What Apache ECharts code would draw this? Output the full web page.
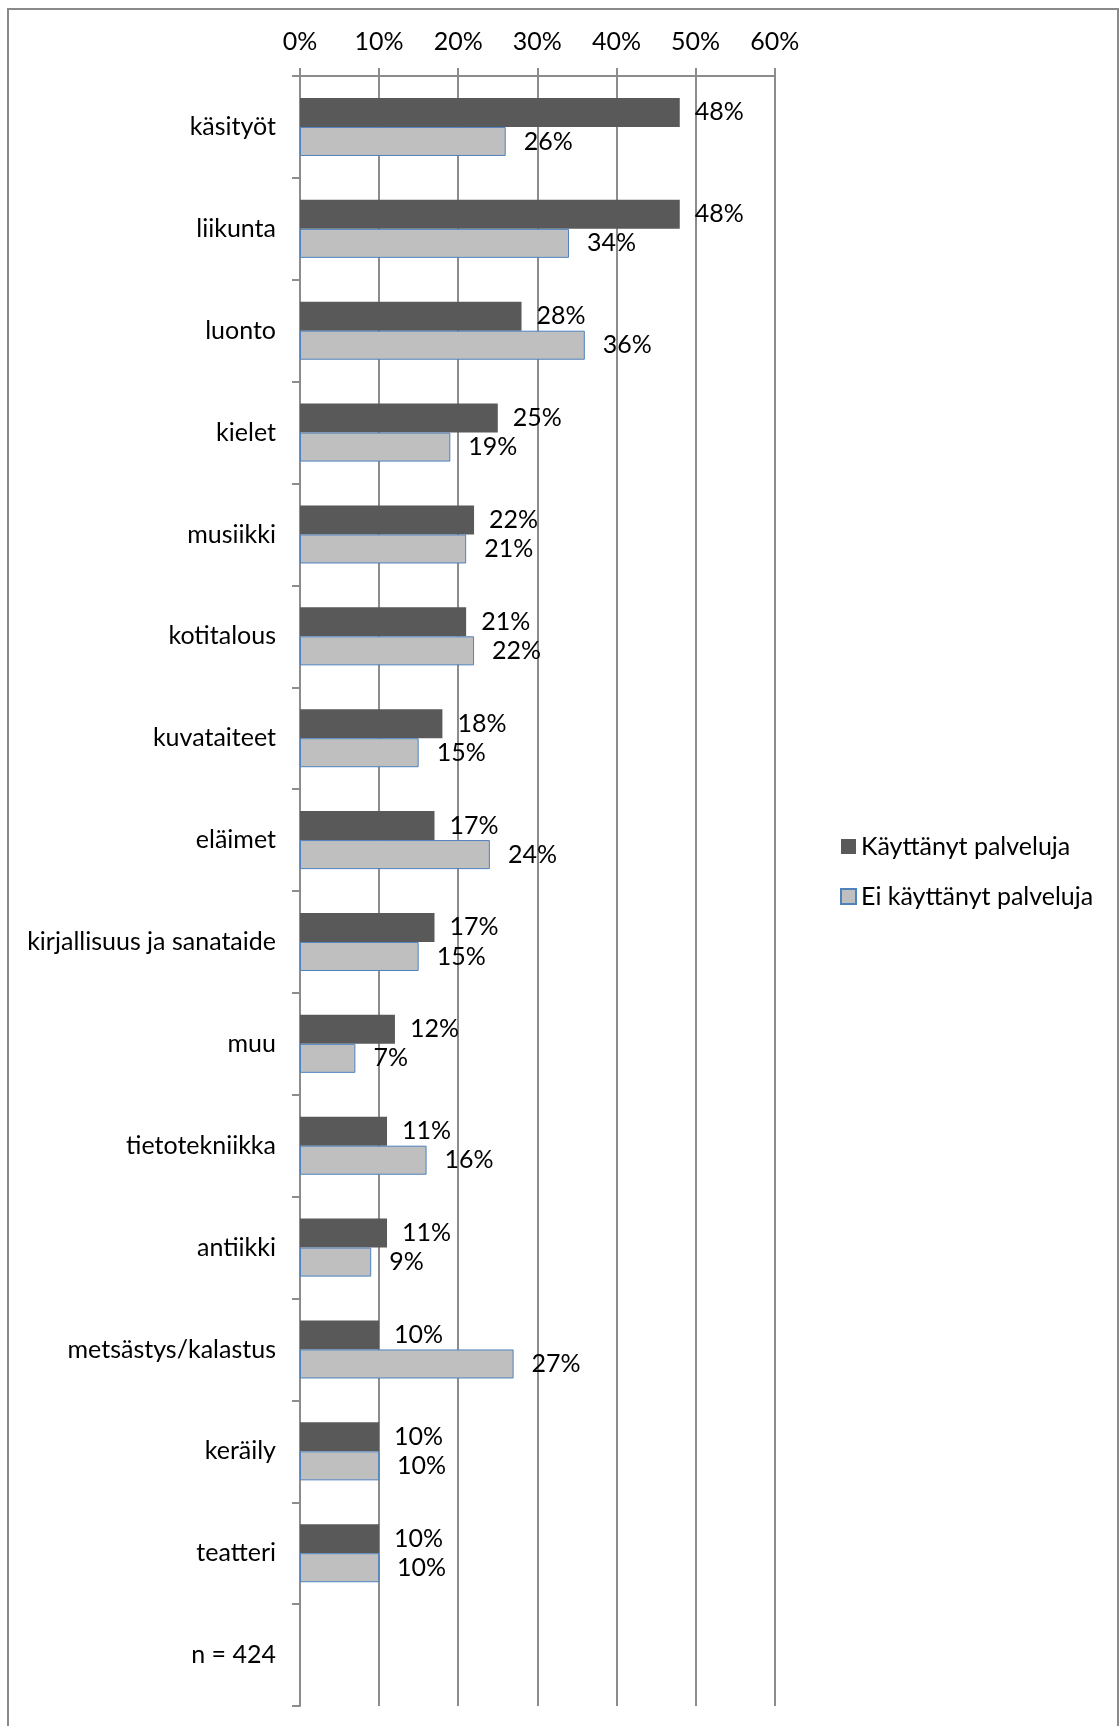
<!DOCTYPE html>
<html>
<head>
<meta charset="utf-8">
<script src="https://cdn.jsdelivr.net/npm/echarts@6/dist/echarts.min.js"></script>
<style>
html,body{margin:0;padding:0;background:#fff;}
#chart{width:1120px;height:1726px;}
</style>
</head>
<body>
<div id="chart"></div>
<script>
const categories = ['käsityöt','liikunta','luonto','kielet','musiikki','kotitalous','kuvataiteet','eläimet','kirjallisuus ja sanataide','muu','tietotekniikka','antiikki','metsästys/kalastus','keräily','teatteri','n = 424'];
const usedServices = [48,48,28,25,22,21,18,17,17,12,11,11,10,10,10,null];
const notUsedServices = [26,34,36,19,21,22,15,24,15,7,16,9,27,10,10,null];
const seriesNames = ['Käyttänyt palveluja','Ei käyttänyt palveluja'];
const xTicks = {min:0, max:60, interval:10};

const FONT = 'Lato';
const FS = 25;
const GRAY = '#8c8c8c';

const chart = echarts.init(document.getElementById('chart'), null, {renderer:'canvas'});
chart.setOption({
  backgroundColor:'#fff',
  animation:false,
  textStyle:{fontFamily:FONT},
  graphic:[{
    type:'rect',
    shape:{x:8,y:9,width:1110,height:1740},
    style:{fill:'none',stroke:'#8a8a8a',lineWidth:2},
    silent:true
  }],
  legend:{
    orient:'vertical',
    left:840,
    top:834,
    padding:0,
    itemWidth:15,
    itemHeight:15,
    itemGap:25,
    icon:'rect',
    textStyle:{fontFamily:FONT,fontSize:FS,color:'#000',lineHeight:24},
    data:seriesNames
  },
  grid:{left:300,top:76,width:474.7,bottom:20,containLabel:false},
  xAxis:{
    type:'value',
    position:'top',
    min:xTicks.min,max:xTicks.max,interval:xTicks.interval,
    axisLine:{show:true,lineStyle:{color:GRAY,width:2}},
    axisTick:{show:true,length:8,lineStyle:{color:GRAY,width:2}},
    splitLine:{show:true,lineStyle:{color:GRAY,width:2}},
    axisLabel:{formatter:'{value}%',fontFamily:FONT,fontSize:FS,color:'#000',margin:22}
  },
  yAxis:{
    type:'category',
    inverse:true,
    data:categories,
    axisLine:{show:true,lineStyle:{color:GRAY,width:2}},
    axisTick:{show:true,length:8,lineStyle:{color:GRAY,width:2}},
    axisLabel:{fontFamily:FONT,fontSize:FS,color:'#000',margin:24}
  },
  series:[{
    name:seriesNames[0],
    type:'bar',
    data:usedServices,
    barGap:'0%',
    barCategoryGap:'43%',
    itemStyle:{color:'#595959'},
    label:{show:true,position:'right',distance:15,formatter:'{c}%',fontFamily:FONT,fontSize:FS,color:'#000'}
  },{
    name:seriesNames[1],
    type:'bar',
    data:notUsedServices,
    barGap:'0%',
    barCategoryGap:'43%',
    itemStyle:{color:'#bfbfbf',borderColor:'#4f81bd',borderWidth:1},
    label:{show:true,position:'right',distance:18,formatter:'{c}%',fontFamily:FONT,fontSize:FS,color:'#000'}
  }]
});
</script>
</body>
</html>
